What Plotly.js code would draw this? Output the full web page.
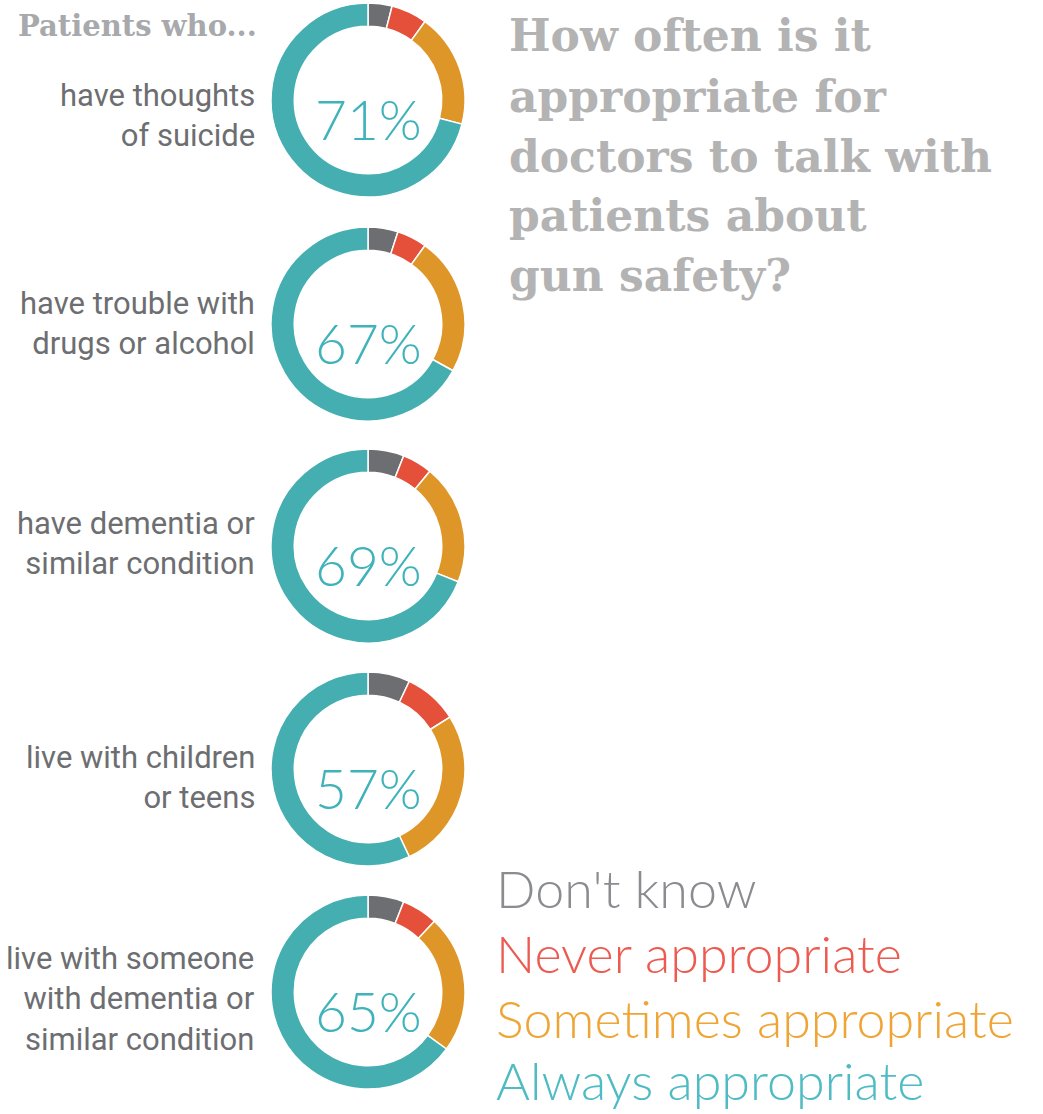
<!DOCTYPE html>
<html>
<head>
<meta charset="utf-8">
<script src="https://cdn.plot.ly/plotly-3.0.1.min.js"></script>
<style>html,body{margin:0;padding:0;background:#fff;}#chart{width:1043px;height:1114px;}</style>
</head>
<body>
<div id="chart"></div>
<script>
// ---- data ----
const categories = [
  "have thoughts<br>of suicide",
  "have trouble with<br>drugs or alcohol",
  "have dementia or<br>similar condition",
  "live with children<br>or teens",
  "live with someone<br>with dementia or<br>similar condition"
];
const responses = ["Don't know", "Never appropriate", "Sometimes appropriate", "Always appropriate"];
const dontKnow  = [4, 5, 6, 7, 6];
const never     = [6, 5, 5, 9, 6];
const sometimes = [19, 23, 20, 27, 23];
const always    = [71, 67, 69, 57, 65];
const titleLines = ["How often is it", "appropriate for", "doctors to talk with", "patients about", "gun safety?"];
const subTitle = "Patients who...";
const colors = ["#6d6e71", "#e4503a", "#df9628", "#45aeb0"];
const legendColors = ["#8a8c90", "#ec5a50", "#efa535", "#4fbcc4"];

// ---- layout helpers (pixel geometry) ----
const W = 1043, H = 1114;
const cx = 368, R = 97;
const cys = [100, 324, 546, 769, 992];
const labelY = [115, 324, 543, 777, 999];
const px = x => x / W;
const py = y => 1 - y / H;

const traces = categories.map((c, i) => ({
  type: "pie",
  values: [dontKnow[i], never[i], sometimes[i], always[i]],
  labels: responses,
  sort: false,
  direction: "clockwise",
  rotation: 0,
  hole: 0.76,
  textinfo: "none",
  hoverinfo: "label+percent",
  marker: {colors: colors, line: {color: "#ffffff", width: 1.5}},
  domain: {x: [px(cx - R), px(cx + R)], y: [py(cys[i] + R), py(cys[i] - R)]},
  showlegend: false
}));

const annotations = [];
categories.forEach((c, i) => {
  annotations.push({
    xref: "paper", yref: "paper", x: px(257), y: py(labelY[i]),
    xanchor: "right", yanchor: "middle", align: "right", showarrow: false,
    text: c, font: {family: "Roboto", size: 31, color: "#6d6e71"}
  });
  annotations.push({
    xref: "paper", yref: "paper", x: px(cx), y: py(cys[i] + 19),
    xanchor: "center", yanchor: "middle", showarrow: false,
    text: always[i] + "%", font: {family: "Lato", size: 55, weight: 300, color: "#3fb2ba"}
  });
});
annotations.push({
  xref: "paper", yref: "paper", x: px(259), y: py(26),
  xanchor: "right", yanchor: "middle", showarrow: false,
  text: "<b>" + subTitle + "</b>", font: {family: "DejaVu Serif", size: 29, color: "#a7a9ac"}
});
titleLines.forEach((t, i) => {
  annotations.push({
    xref: "paper", yref: "paper", x: px(507), y: py(36 + 60 * i),
    xanchor: "left", yanchor: "middle", align: "left", showarrow: false,
    text: "<b>" + t + "</b>",
    font: {family: "DejaVu Serif", size: 44, color: "#b3b3b3"}
  });
});
const legY = [888, 953, 1018, 1080];
responses.forEach((r, i) => {
  annotations.push({
    xref: "paper", yref: "paper", x: px(494), y: py(legY[i]),
    xanchor: "left", yanchor: "middle", showarrow: false,
    text: r, font: {family: "Lato", size: 52, weight: 300, color: legendColors[i]}
  });
});

const layout = {
  width: W, height: H,
  margin: {l: 0, r: 0, t: 0, b: 0},
  paper_bgcolor: "#ffffff",
  plot_bgcolor: "#ffffff",
  annotations: annotations,
  showlegend: false
};
Plotly.newPlot("chart", traces, layout, {displayModeBar: false});
</script>
</body>
</html>
